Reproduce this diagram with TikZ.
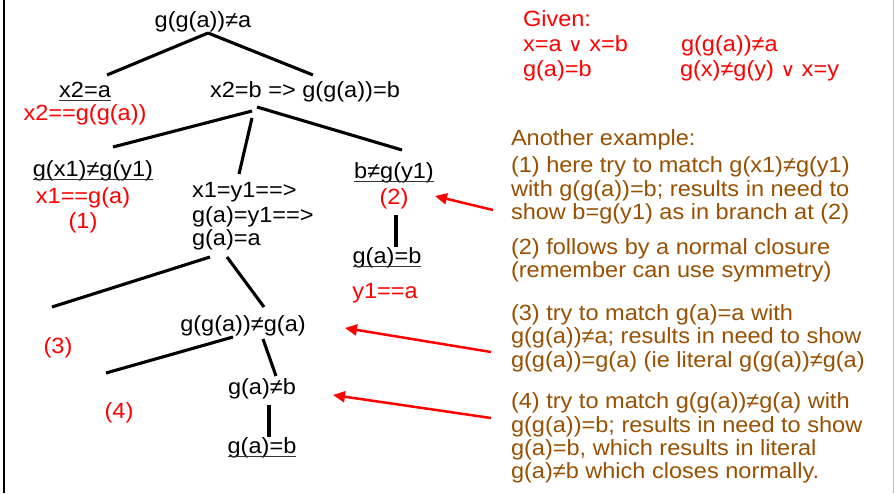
\documentclass[tikz,border=0pt]{standalone}
\usepackage{fontspec}
\setmainfont{Liberation Sans}[FakeStretch=1.07]
\newfontfamily\symfnt{DejaVu Sans}[FakeStretch=1.07,Scale=0.85]
\usetikzlibrary{calc,arrows.meta}
\definecolor{brn}{RGB}{153,80,0}
\newcommand{\myor}{{\symfnt ∨}}
\begin{document}
\begin{tikzpicture}[x=1pt,y=-1pt,
  every node/.style={font=\fontsize{22}{23.5}\selectfont, inner sep=0pt, outer sep=0pt},
  tx/.style={anchor=base},
  rtx/.style={anchor=base, text=red},
  lft/.style={anchor=base west},
  given/.style={anchor=base west, text=red},
  note/.style={anchor=base west, text=brn},
  tl/.style={line width=3.1pt},
  ulline/.style={line width=1.4pt, black!80},
  redarrow/.style={red, line width=2.5pt, -{Triangle[length=12pt,width=11pt]}}]
\path[use as bounding box, fill=white] (0,0) rectangle (894,493);
\draw[line width=2.6pt] (4,0) -- (4,493);
\draw[black!25, line width=1pt] (893.5,0) -- (893.5,493);

% tree nodes
\node[tx] (root) at (203,27) {g(g(a))≠a};
\node[tx] (x2a) at (85,97) {x2=a};
\node[rtx] (x2eq) at (85,120) {x2==g(g(a))};
\node[tx] (x2b) at (305,97) {x2=b => g(g(a))=b};
\node[tx] (gx1) at (93,176) {g(x1)≠g(y1)};
\node[rtx] (x1eq) at (83,203) {x1==g(a)};
\node[rtx] (one) at (83,228) {(1)};
\node[lft] (mid1) at (192,197) {x1=y1==>};
\node[lft] (mid2) at (192,222) {g(a)=y1==>};
\node[lft] (mid3) at (192,245) {g(a)=a};
\node[tx] (bg) at (394,178) {b≠g(y1)};
\node[rtx] (two) at (394,204) {(2)};
\node[tx] (gab1) at (387,263) {g(a)=b};
\node[rtx] (y1eq) at (385,298) {y1==a};
\node[rtx] (three) at (58,353) {(3)};
\node[tx] (gga) at (243,331) {g(g(a))≠g(a)};
\node[rtx] (four) at (119,418) {(4)};
\node[tx] (gab) at (262,394) {g(a)≠b};
\node[tx] (gab2) at (262,453) {g(a)=b};

\foreach \n in {x2a,gx1,bg,gab1,gab2}{
  \draw[ulline] ([yshift=-3.5pt]\n.base west) -- ([yshift=-3.5pt]\n.base east);
}

\coordinate (e3) at (52,307);
\coordinate (e4) at (106,373);

% tree lines
\draw[tl] ($(root.base)+(5,6)$) -- ($(x2a.base)+(22,-22)$);
\draw[tl] ($(root.base)+(5,6)$) -- ($(x2b.base)+(8,-22)$);
\draw[tl] ($(x2b.base)+(-53,14)$) -- ($(gx1.base)+(20,-29)$);
\draw[tl] ($(x2b.base)+(-53,21)$) -- ($(mid1.base west)+(47,-23)$);
\draw[tl] ($(x2b.base)+(-48,10)$) -- ($(bg.base)+(8,-28)$);
\draw[tl] ($(two.base)+(2,11)$) -- ($(gab1.base)+(9,-16)$);
\draw[tl] ($(mid3.base west)+(18,12)$) -- (e3);
\draw[tl] ($(mid3.base west)+(35,12)$) -- ($(gga.base)+(21,-24)$);
\draw[tl] ($(gga.base)+(-10,6)$) -- (e4);
\draw[tl] ($(gga.base)+(20,8)$) -- ($(gab.base)+(14,-18)$);
\draw[tl] ($(gab.base)+(7,11)$) -- ($(gab2.base)+(7,-16)$);

% given
\node[given] (g1) at (523,26) {Given:};
\node[given] (g2) at (523,51) {x=a \myor\ x=b};
\node[given] (g3) at (523,76) {g(a)=b};
\node[given] (g4) at (681,51) {g(g(a))≠a};
\node[given] (g5) at (680,76) {g(x)≠g(y) \myor\ x=y};

% notes
\node[note] (p0) at (511,145) {Another example:};
\node[note] (p1a) at (511,172) {(1) here try to match g(x1)≠g(y1)};
\node[note] (p1b) at (511,196) {with g(g(a))=b; results in need to};
\node[note] (p1c) at (511,219) {show b=g(y1) as in branch at (2)};
\node[note] (p2a) at (511,254) {(2) follows by a normal closure};
\node[note] (p2b) at (511,277) {(remember can use symmetry)};
\node[note] (p3a) at (511,320) {(3) try to match g(a)=a with};
\node[note] (p3b) at (511,343) {g(g(a))≠a; results in need to show};
\node[note] (p3c) at (511,367) {g(g(a))=g(a) (ie literal g(g(a))≠g(a)};
\node[note] (p4a) at (511,408) {(4) try to match g(g(a))≠g(a) with};
\node[note] (p4b) at (511,432) {g(g(a))=b; results in need to show};
\node[note] (p4c) at (511,455) {g(a)=b, which results in literal};
\node[note] (p4d) at (511,478) {g(a)≠b which closes normally.};

% arrows
\draw[redarrow] ($(p1c.base west)+(-18,-9)$) -- ($(two.base)+(41,-8)$);
\draw[redarrow] ($(p3b.base west)+(-20,9)$) -- ($(gga.base)+(102,-3)$);
\draw[redarrow] ($(p4b.base west)+(-20,-14)$) -- ($(gab.base)+(71,1)$);
\end{tikzpicture}
\end{document}
